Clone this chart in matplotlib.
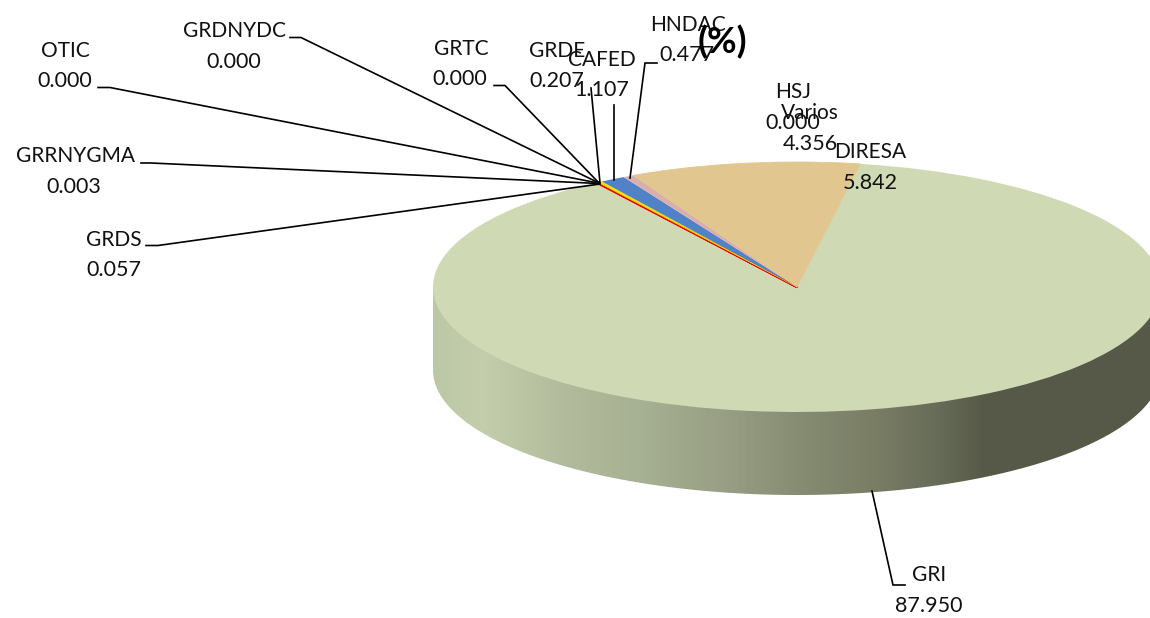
import numpy as np
import matplotlib
matplotlib.use("Agg")
import matplotlib.pyplot as plt
from matplotlib.colors import LinearSegmentedColormap
from matplotlib.patches import Polygon

plt.rcParams['font.family'] = ['Lato', 'DejaVu Sans']

# Data
categories = ['GRI', 'GRDS', 'GRRNYGMA', 'OTIC', 'GRDNYDC', 'GRTC', 'GRDE',
              'CAFED', 'HNDAC', 'HSJ', 'Varios', 'DIRESA']
values = [87.950, 0.057, 0.003, 0.000, 0.000, 0.000, 0.207,
          1.107, 0.477, 0.000, 4.356, 5.842]
value_labels = ['87.950', '0.057', '0.003', '0.000', '0.000', '0.000', '0.207',
                '1.107', '0.477', '0.000', '4.356', '5.842']
slice_colors = ['#CFD9B3', '#F00000', '#C00000', '#7F7F7F', '#7F7F7F', '#7F7F7F', '#FFE000',
                '#5082C8', '#D8AEAE', '#C0C0C0', '#E2C68F', '#E2C68F']
title = '(%)'

# Layout, in pixels of the 1150x618 picture
W, H = 1150, 618
CX, CY, RX, RY, DEPTH = 797, 287, 364, 125, 83
label_pos = {
    'GRI': (929, 575, 929, 606), 'GRDS': (114, 240, 114, 270),
    'GRRNYGMA': (75, 156, 74, 187), 'OTIC': (65, 51, 65, 81),
    'GRDNYDC': (234, 31, 234, 62), 'GRTC': (461, 49, 460, 79),
    'GRDE': (557, 51, 557, 81), 'CAFED': (602, 60, 602, 90),
    'HNDAC': (688, 25, 687, 55), 'HSJ': (793, 92, 793, 123),
    'Varios': (810, 113, 810, 144), 'DIRESA': (870, 152, 870, 183),
}
leaders = {
    'GRI': [(872, 491), (893, 585), (905, 585)],
    'GRDS': [(146, 245.5), (158, 245.5), (600, 184)],
    'GRRNYGMA': [(141, 163), (151, 163), (599, 183.5)],
    'OTIC': [(98, 87.5), (110, 87.5), (598, 183)],
    'GRDNYDC': [(290, 37.5), (301, 37.5), (599, 183)],
    'GRTC': [(494, 85.5), (505, 85.5), (599, 183)],
    'GRDE': [(591, 88), (600, 183)],
    'CAFED': [(613.5, 105), (613.5, 180)],
    'HNDAC': [(657, 63), (645, 63), (630, 178)],
}
grad_x = [433, 480, 560, 640, 720, 800, 880, 940, 985, 1150]
grad_c = ['#BCC7A6', '#C3CDAB', '#B2BC9C', '#A6B092', '#989F84', '#858C72', '#787C64',
          '#666B57', '#565947', '#565947']


def dx(px):
    return (np.asarray(px, float) - CX) / RX


def dy(py):
    return (CY - np.asarray(py, float)) / RY


fig = plt.figure(figsize=(W / 100, H / 100), dpi=100, facecolor='white')
ax = fig.add_axes([0, 0, 1, 1])

# Side wall of the disc: gradient band, trimmed below by a white mask
pos = (np.array(grad_x) - grad_x[0]) / (grad_x[-1] - grad_x[0])
cmap = LinearSegmentedColormap.from_list('wall', list(zip(pos, grad_c)))
xs = np.linspace(grad_x[0], grad_x[-1], 360)
ax.pcolormesh(dx(xs), [dy(287), dy(510)], (xs[:-1] - xs[0])[None, :],
              cmap=cmap, shading='flat', zorder=1)
t = np.linspace(np.pi, 2 * np.pi, 500)
rim = np.column_stack([np.cos(t), np.sin(t) - DEPTH / RY])
corners = [[dx(1170), dy(370)], [dx(1170), dy(530)], [dx(420), dy(530)], [dx(420), dy(370)]]
ax.add_patch(Polygon(np.vstack([rim, corners]), closed=True, facecolor='white',
                     edgecolor='none', zorder=1.5))

# Top of the disc
wedges, _ = ax.pie(values, colors=slice_colors, startangle=80, counterclock=False,
                   radius=1, center=(0, 0), wedgeprops={'linewidth': 0})
for w in wedges:
    w.set_zorder(2)
    w.set_joinstyle('round')
wedges[1].set_edgecolor('#F00000')
wedges[1].set_linewidth(1.7)
wedges[6].set_edgecolor('#FFE000')
wedges[6].set_linewidth(0.4)
for i in (10, 11):
    wedges[i].set_edgecolor('#E2C68F')
    wedges[i].set_linewidth(0.6)

ax.set_xlim(dx(0), dx(W))
ax.set_ylim(dy(H), dy(0))
ax.set_aspect('auto')
ax.axis('off')

# Leader lines
for name, pts in leaders.items():
    p = np.array(pts, float)
    ax.plot(dx(p[:, 0]), dy(p[:, 1]), color='black', lw=1.2, zorder=6,
            solid_joinstyle='miter', clip_on=False)

# Labels
for name, lab in zip(categories, value_labels):
    x1, y1, x2, y2 = label_pos[name]
    ax.text(dx(x1), dy(y1), name, ha='center', va='center', fontsize=15,
            color='#111111', zorder=7)
    ax.text(dx(x2), dy(y2), lab, ha='center', va='center', fontsize=15.5,
            color='#111111', zorder=7)

ax.text(dx(722), dy(42), title, ha='center', va='center', fontsize=26,
        fontweight='bold', color='black', zorder=8)

fig.savefig('out.png', dpi=100, facecolor='white')
